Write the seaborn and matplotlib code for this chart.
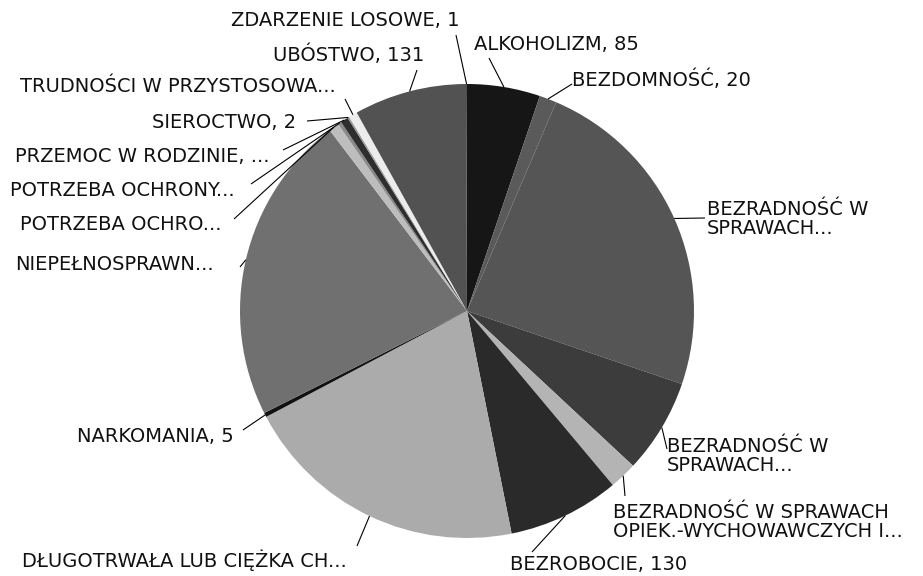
import numpy as np
import matplotlib
matplotlib.use("Agg")
import matplotlib.pyplot as plt
import seaborn as sns

# ---- data ----
categories = [
    "ALKOHOLIZM, 85",
    "BEZDOMNOŚĆ, 20",
    "BEZRADNOŚĆ W\nSPRAWACH...",
    "BEZRADNOŚĆ W\nSPRAWACH...",
    "BEZRADNOŚĆ W SPRAWACH\nOPIEK.-WYCHOWAWCZYCH I...",
    "BEZROBOCIE, 130",
    "DŁUGOTRWAŁA LUB CIĘŻKA CH...",
    "NARKOMANIA, 5",
    "NIEPEŁNOSPRAWN...",
    "POTRZEBA OCHRO...",
    "POTRZEBA OCHRONY...",
    "PRZEMOC W RODZINIE, ...",
    "SIEROCTWO, 2",
    "TRUDNOŚCI W PRZYSTOSOWA...",
    "UBÓSTWO, 131",
    "ZDARZENIE LOSOWE, 1",
]
values = [85, 20, 389, 110, 32, 130, 334, 5, 361, 12, 4, 9, 2, 10, 131, 1]
colors = ["#161616", "#5a5a5a", "#555555", "#3c3c3c", "#b4b4b4", "#2a2a2a",
          "#ababab", "#111111", "#707070", "#bdbdbd", "#8a8a8a", "#2e2e2e",
          "#9a9a9a", "#ececec", "#525252", "#333333"]

# label layout (pixel coords of figure: text left x, text centre y, leader end x, y)
label_pos = [
    (474, 45, 489, 58),
    (572, 80, 572, 84),
    (707, 219, 705, 218),
    (667, 456, 667, 449),
    (613, 522, 625, 496),
    (510, 565, 532, 552),
    (22, 560, 357, 546),
    (77, 437, 243, 430),
    (15, 265, 240, 267),
    (20, 225, 234, 219),
    (10, 191, 251, 184),
    (15, 157, 283, 150),
    (152, 122, 307, 121),
    (20, 87, 345, 99),
    (273, 55, 417, 70),
    (231, 20, 456, 35),
]

W, H = 923, 576
CX, CY, R = 467, 311, 227

sns.set_theme(style="white")
plt.rcParams['font.family'] = ['DejaVu Sans']

fig = plt.figure(figsize=(W / 100, H / 100), dpi=100)
ax = fig.add_axes([0, 0, 1, 1])

def P(x, y):
    return x, H - y

ax.pie(values, colors=colors, startangle=90, counterclock=False,
       center=P(CX, CY), radius=R, wedgeprops=dict(linewidth=0))
ax.set_xlim(0, W)
ax.set_ylim(0, H)
ax.set_aspect('equal')
ax.axis('off')

total = float(np.sum(values))
cum = np.cumsum([0] + values[:-1])
for cat, v, c0, (tx, ty, lx, ly) in zip(categories, values, cum, label_pos):
    th = np.deg2rad(360.0 * (c0 + v / 2.0) / total)
    ex = CX + R * np.sin(th)
    ey = CY - R * np.cos(th)
    ax.plot([ex, lx], [H - ey, H - ly], color="black", lw=0.8, solid_capstyle='butt')
    ax.text(tx, H - ty, cat, ha='left', va='center', fontsize=14,
            color="#111111", linespacing=1.0)

fig.savefig("out.png", dpi=100, facecolor="white")
